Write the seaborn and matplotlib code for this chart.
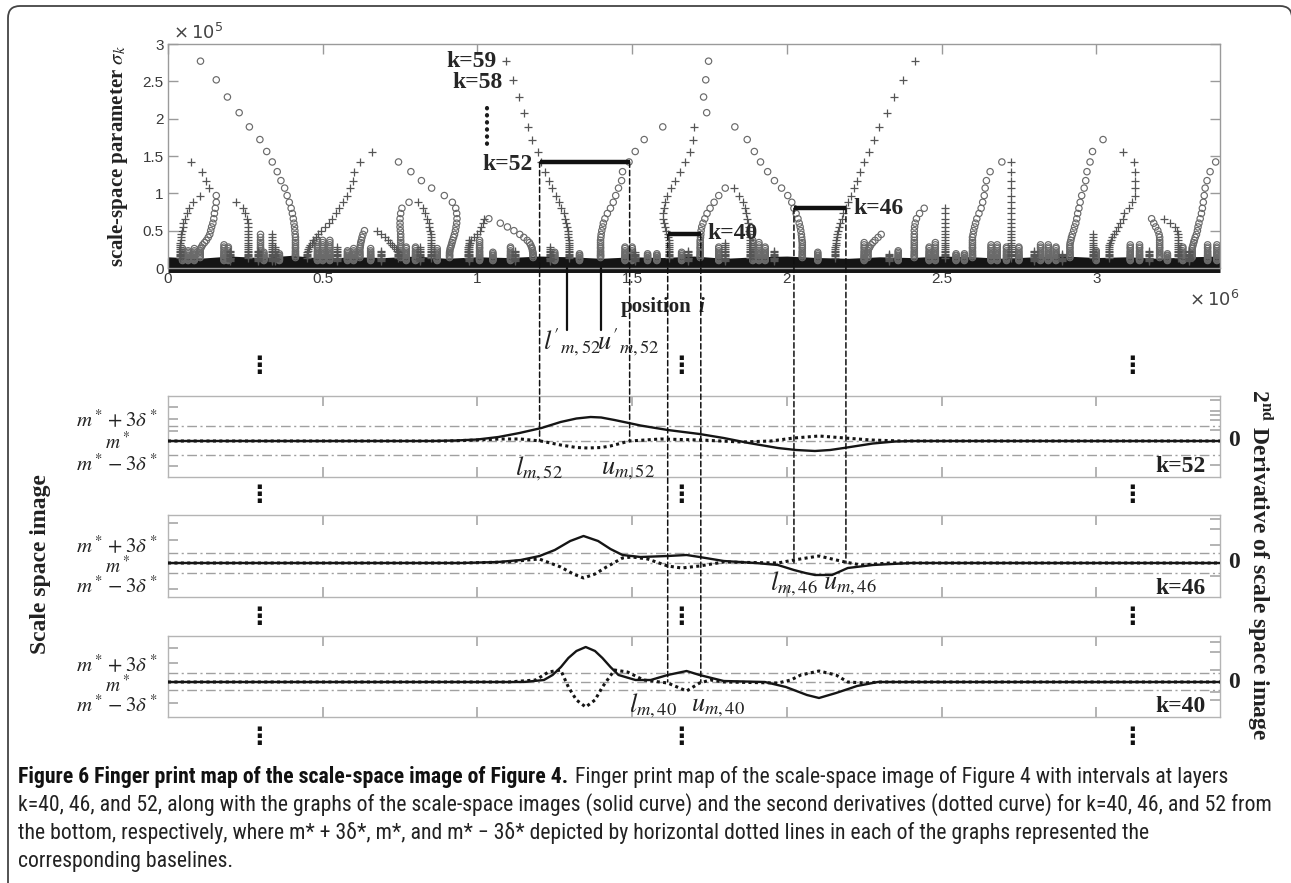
import numpy as np
import pandas as pd
import matplotlib
matplotlib.use("Agg")
import matplotlib.pyplot as plt
import matplotlib.transforms as mtransforms
from matplotlib.patches import FancyBboxPatch, ConnectionPatch
from matplotlib import font_manager as fm
import seaborn as sns

sns.set_theme(style="white")
plt.rcParams['font.family'] = ['DejaVu Sans']
plt.rcParams['mathtext.fontset'] = 'stix'

# ---------------- scale levels sigma_k (x1e5) ----------------
LEVEL_K = list(range(59, 23, -1))
LEVEL_SIGMA = [2.77, 2.52, 2.29, 2.08, 1.89, 1.72, 1.56, 1.42, 1.29, 1.17, 1.07, 0.97,
               0.88, 0.80, 0.73, 0.66, 0.60, 0.55, 0.50, 0.45, 0.41, 0.37, 0.34, 0.31,
               0.28, 0.26, 0.23, 0.21, 0.19, 0.17, 0.16, 0.14, 0.13, 0.12, 0.11, 0.10]

# ---------------- zero-crossing contours (position x1e6, one value per level from k_top down) ----------------
CIRC_A = [0.105, 0.156, 0.192, 0.230, 0.263, 0.297, 0.319, 0.337, 0.353, 0.365, 0.377, 0.385,
          0.392, 0.398, 0.402, 0.405, 0.407, 0.409, 0.410, 0.411] + [0.412] * 12
PLUS_A1 = [0.074, 0.110, 0.123, 0.134]
PLUS_A2 = [0.105, 0.082, 0.067, 0.060, 0.055, 0.050, 0.047, 0.045, 0.043, 0.042, 0.041] + [0.040] * 10
CIRC_B = [0.156, 0.156, 0.153, 0.150, 0.148, 0.145, 0.141, 0.138, 0.135, 0.130, 0.124, 0.118,
          0.112, 0.108, 0.105] + [0.104] * 6
PLUS_B = [0.219, 0.242, 0.250, 0.255, 0.258] + [0.260] * 15
CIRC_C = [0.299] * 13
PLUS_C = [0.658, 0.621, 0.601, 0.597, 0.588, 0.577, 0.564, 0.554, 0.544, 0.530, 0.519, 0.507,
          0.494, 0.485, 0.477, 0.470, 0.465, 0.460, 0.456, 0.453, 0.451] + [0.450] * 5
PLUS_D = [0.675, 0.689, 0.700, 0.710, 0.718, 0.725, 0.732, 0.737, 0.740, 0.742] + [0.743] * 4
CIRC_D = [0.745, 0.785, 0.819, 0.852, 0.893, 0.919, 0.930, 0.933, 0.934, 0.933, 0.931, 0.929,
          0.926, 0.923, 0.920, 0.918, 0.916, 0.914, 0.912, 0.911] + [0.910] * 5
CIRC_E = [0.779, 0.756, 0.752, 0.750, 0.750, 0.750, 0.751] + [0.752] * 13
PLUS_E = [0.809, 0.823, 0.832, 0.838, 0.842, 0.845, 0.847, 0.849] + [0.850] * 12
CIRC_F = [0.635, 0.630, 0.627, 0.625, 0.623, 0.622, 0.621] + [0.620] * 7
CIRC_G = [1.037, 1.074, 1.097, 1.118, 1.137, 1.150, 1.161, 1.168, 1.172, 1.175, 1.177, 1.178,
          1.179] + [1.180] * 4
PLUS_G = [1.020, 1.018, 1.013, 1.008, 1.000, 0.990, 0.980, 0.975, 0.972] + [0.970] * 8
PLUS_H = [1.091, 1.114, 1.134, 1.150, 1.165, 1.178, 1.195, 1.205, 1.217, 1.231, 1.242, 1.255,
          1.264, 1.271, 1.279, 1.283, 1.287, 1.290, 1.292, 1.293, 1.294] + [1.295] * 11
CIRC_H = [1.599, 1.539, 1.510, 1.490, 1.469, 1.466, 1.456, 1.447, 1.439, 1.430, 1.420, 1.412,
          1.407, 1.405, 1.402, 1.400, 1.399] + [1.398] * 11
CIRC_I = [1.747, 1.738, 1.731, 1.741, 1.832, 1.872, 1.895, 1.915, 1.938, 1.960, 1.983, 2.003,
          2.016, 2.023, 2.030, 2.036, 2.040, 2.043, 2.045, 2.047, 2.048, 2.049] + [2.050] * 10
PLUS_I = [1.700, 1.696, 1.687, 1.671, 1.656, 1.640, 1.626, 1.614, 1.606, 1.602, 1.600, 1.601,
          1.602, 1.605, 1.609, 1.615, 1.617, 1.619] + [1.620] * 10
CIRC_J = [1.801, 1.780, 1.765, 1.752, 1.742, 1.735, 1.729, 1.725, 1.723, 1.722, 1.721] + [1.720] * 11
PLUS_J = [1.830, 1.845, 1.858, 1.864, 1.869, 1.872, 1.875, 1.877, 1.878, 1.879] + [1.880] * 12
PLUS_K = [2.413, 2.375, 2.348, 2.323, 2.298, 2.281, 2.265, 2.251, 2.238, 2.227, 2.218, 2.207,
          2.198, 2.191, 2.183, 2.177, 2.172, 2.168, 2.165, 2.163, 2.161, 2.160, 2.159, 2.158] + [2.157] * 8
CIRC_K = [2.305, 2.295, 2.285, 2.278, 2.272, 2.268, 2.265, 2.263] + [2.262] * 5
CIRC_L = [2.444, 2.429, 2.419, 2.415, 2.413] + [2.412] * 14
PLUS_L = [2.511] * 19
CIRC_M = [2.695, 2.657, 2.645, 2.641, 2.638, 2.633, 2.628, 2.621, 2.614, 2.610, 2.607, 2.604,
          2.602] + [2.600] * 12
PLUS_M = [2.726] * 25
PLUS_N = [3.085, 3.122, 3.125, 3.126, 3.126, 3.125, 3.115, 3.105, 3.091, 3.085, 3.078, 3.071,
          3.064, 3.058, 3.052, 3.047, 3.044, 3.042, 3.041] + [3.040] * 7
CIRC_N = [3.022, 2.988, 2.980, 2.970, 2.966, 2.961, 2.953, 2.948, 2.944, 2.940, 2.937, 2.934,
          2.930, 2.927, 2.923, 2.920, 2.918, 2.916] + [2.915] * 9
PLUS_O = [2.990] * 13
CIRC_P = [3.179, 3.186, 3.192, 3.199, 3.203] + [3.205] * 12
PLUS_P = [3.219, 3.240, 3.254, 3.260, 3.263] + [3.265] * 12
CIRC_Q = [3.386, 3.368, 3.358, 3.352, 3.349, 3.346, 3.343, 3.340, 3.336, 3.332, 3.329, 3.327,
          3.324, 3.320, 3.317, 3.315, 3.313, 3.311] + [3.310] * 7

# small low-scale contours: position, top sigma, marker kind
SMALL_X = [0.047, 0.065, 0.085, 0.181, 0.195, 0.200, 0.290, 0.310, 0.336, 0.345, 0.360, 0.483,
           0.500, 0.523, 0.545, 0.580, 0.600, 0.655, 0.690, 0.770, 0.800, 0.815, 0.870, 0.973,
           1.007, 1.050, 1.107, 1.120, 1.235, 1.250, 1.330, 1.477, 1.500, 1.510, 1.550, 1.580,
           1.660, 1.680, 1.780, 1.800, 1.890, 1.910, 1.930, 1.960, 2.100, 2.250, 2.330, 2.360,
           2.460, 2.480, 2.547, 2.574, 2.660, 2.680, 2.710, 2.750, 2.800, 2.820, 2.845, 2.870,
           2.890, 3.000, 3.110, 3.140, 3.170, 3.230, 3.280, 3.300, 3.360, 3.390]
SMALL_TOP = [0.27, 0.25, 0.27, 0.33, 0.30, 0.25, 0.25, 0.22, 0.45, 0.30, 0.20, 0.40,
             0.40, 0.40, 0.30, 0.25, 0.27, 0.27, 0.25, 0.30, 0.30, 0.28, 0.27, 0.40,
             0.40, 0.22, 0.29, 0.25, 0.30, 0.22, 0.20, 0.29, 0.29, 0.22, 0.20, 0.20,
             0.22, 0.25, 0.30, 0.35, 0.38, 0.35, 0.30, 0.25, 0.22, 0.35, 0.20, 0.25,
             0.30, 0.35, 0.20, 0.20, 0.33, 0.33, 0.29, 0.29, 0.25, 0.33, 0.33, 0.30,
             0.20, 0.25, 0.33, 0.33, 0.25, 0.20, 0.29, 0.25, 0.31, 0.31]
SMALL_KIND = ['o', 'o', 'o', 'o', 'o', '+', '+', 'o', '+', '+', 'o', 'o',
              'o', 'o', '+', 'o', 'o', 'o', '+', 'o', 'o', '+', 'o', '+',
              'o', 'o', 'o', '+', '+', 'o', 'o', 'o', 'o', '+', 'o', 'o',
              'o', '+', 'o', '+', 'o', 'o', 'o', '+', 'o', 'o', '+', 'o',
              'o', 'o', 'o', 'o', 'o', 'o', 'o', 'o', '+', 'o', 'o', 'o',
              '+', 'o', 'o', 'o', '+', 'o', 'o', '+', 'o', 'o']

# dense band of finest-scale crossings (top edge, x1e5)
BAND_X = [0.0, 0.1, 0.2, 0.3, 0.4, 0.5, 0.6, 0.7, 0.8, 0.9, 1.0, 1.1, 1.2, 1.3, 1.4, 1.5, 1.6,
          1.7, 1.8, 1.9, 2.0, 2.1, 2.2, 2.3, 2.4, 2.5, 2.6, 2.7, 2.8, 2.9, 3.0, 3.1, 3.2, 3.3, 3.4]
BAND_TOP = [0.15, 0.13, 0.16, 0.14, 0.17, 0.13, 0.15, 0.14, 0.16, 0.13, 0.15, 0.14, 0.16, 0.15,
            0.13, 0.15, 0.14, 0.16, 0.13, 0.15, 0.16, 0.14, 0.13, 0.15, 0.14, 0.16, 0.15, 0.13,
            0.15, 0.16, 0.14, 0.15, 0.13, 0.15, 0.16]

# intervals at layers k=52, 46, 40
INT_K = [52, 46, 40]
INT_LO = [1.201, 2.023, 1.615]
INT_HI = [1.492, 2.191, 1.722]
INT_PANEL = [0, 1, 2]
INNER_L52 = 1.291
INNER_U52 = 1.398

# ---------------- lower panels: scale-space image (solid) and 2nd derivative (dotted) ----------------
K52_SOLID_X = [0.0, 0.85, 0.93, 1.00, 1.068, 1.136, 1.207, 1.269, 1.32, 1.366, 1.40, 1.443, 1.489,
               1.527, 1.615, 1.718, 1.796, 1.877, 1.971, 2.03, 2.091, 2.14, 2.184, 2.278, 2.35,
               2.401, 3.4]
K52_SOLID_Y = [0, 0, 0.5, 1.5, 4, 8, 13, 19, 22.5, 24, 23.5, 21, 18, 15.5, 11, 7, 3, -2, -7, -9,
               -10, -9, -7, -2.5, -0.5, 0, 0]
K52_DOT_X = [0.0, 0.90, 1.00, 1.074, 1.139, 1.204, 1.269, 1.32, 1.356, 1.40, 1.43, 1.492, 1.592,
             1.722, 1.851, 1.948, 2.023, 2.104, 2.188, 2.272, 2.369, 3.4]
K52_DOT_Y = [0, 0, 1, 2, 2, 0, -4, -6.5, -7, -6.5, -5, 0, 2, 1, -1, 0, 3, 5, 3, 1, 0, 0]

K46_SOLID_X = [0.0, 0.95, 1.068, 1.14, 1.201, 1.25, 1.30, 1.343, 1.39, 1.43, 1.469, 1.527, 1.615,
               1.676, 1.718, 1.796, 1.90, 1.971, 2.023, 2.06, 2.091, 2.146, 2.197, 2.278, 2.401, 3.4]
K46_SOLID_Y = [0, 0, 1, 3, 7, 13, 22, 27, 22, 14, 8, 6, 7, 8, 6, 2, 0, -2, -7, -10, -12, -12, -5,
               -2, 0, 0]
K46_DOT_X = [0.0, 0.95, 1.10, 1.162, 1.20, 1.269, 1.31, 1.343, 1.38, 1.417, 1.469, 1.50, 1.55,
             1.615, 1.66, 1.718, 1.796, 1.971, 2.023, 2.104, 2.188, 2.24, 2.333, 3.4]
K46_DOT_Y = [0, 0, 1, 3, 4, -4, -11, -15, -11, -4, 5, 6, 4, -3, -5, -3, 1, 0, 3, 7, 1, -2, 0, 0]

K40_SOLID_X = [0.0, 1.15, 1.215, 1.243, 1.27, 1.294, 1.32, 1.35, 1.38, 1.404, 1.43, 1.456, 1.511,
               1.56, 1.615, 1.676, 1.718, 1.796, 1.929, 1.997, 2.065, 2.104, 2.159, 2.227, 2.294, 3.4]
K40_SOLID_Y = [0, 0, 2, 7, 15, 24, 31, 35, 31, 24, 15, 7, 2, 2, 7, 11, 7, 1, 0, -5, -13, -16,
               -11, -4, 0, 0]
K40_DOT_X = [0.0, 1.10, 1.188, 1.23, 1.269, 1.294, 1.32, 1.35, 1.38, 1.404, 1.443, 1.485, 1.537,
             1.615, 1.676, 1.718, 1.754, 1.796, 1.971, 2.013, 2.045, 2.104, 2.159, 2.197, 2.252,
             2.304, 3.4]
K40_DOT_Y = [0, 0, 2, 10, 12, -5, -18, -25, -18, -5, 12, 10, 2, -1, -9, -1, 2, 0, -1, 2, 7, 11,
             7, 0, -1, 0, 0]

PANEL_NAMES = ['k=52', 'k=46', 'k=40']
PANEL_UPPER = [15, 10, 9]
PANEL_LOWER = [-14, -10, -8]
PANEL_LABELS = [(r'$l_{m,52}$', 1.123, -28), (r'$u_{m,52}$', 1.400, -28),
                (r'$l_{m,46}$', 1.945, -21), (r'$u_{m,46}$', 2.117, -21),
                (r'$l_{m,40}$', 1.489, -24), (r'$u_{m,40}$', 1.689, -24)]
LABEL_PANEL = [0, 0, 1, 1, 2, 2]

XTICKS = [0, 0.5, 1, 1.5, 2, 2.5, 3]
XTICK_LABELS = ['0', '0.5', '1', '1.5', '2', '2.5', '3']
YTICKS = [0, 0.5, 1, 1.5, 2, 2.5, 3]
YTICK_LABELS = ['0', '0.5', '1', '1.5', '2', '2.5', '3']

CAPTION_BOLD = "Figure 6 Finger print map of the scale-space image of Figure 4."
CAPTION_LINES = [
    " Finger print map of the scale-space image of Figure 4 with intervals at layers",
    "k=40, 46, and 52, along with the graphs of the scale-space images (solid curve) and the second derivatives (dotted curve) for k=40, 46, and 52 from",
    "the bottom, respectively, where m* + 3\u03b4*, m*, and m* \u2212 3\u03b4* depicted by horizontal dotted lines in each of the graphs represented the",
    "corresponding baselines.",
]

# ---------------- layout helpers ----------------
W, H = 1291, 883
fig = plt.figure(figsize=(W / 100, H / 100), dpi=100)
fig.patch.set_facecolor('white')


def rect(l, t, r, b):
    return [l / W, 1 - b / H, (r - l) / W, (b - t) / H]


SERIF = 'Liberation Serif'
GRAY_SPINE = '#9a9a9a'

# ---------------- build point table ----------------
SIG = dict(zip(LEVEL_K, LEVEL_SIGMA))
CHAIN_TABLE = [
    ('o', 59, CIRC_A), ('+', 52, PLUS_A1), ('+', 48, PLUS_A2), ('o', 48, CIRC_B), ('+', 47, PLUS_B),
    ('o', 40, CIRC_C), ('+', 53, PLUS_C), ('+', 41, PLUS_D), ('o', 52, CIRC_D), ('o', 47, CIRC_E),
    ('+', 47, PLUS_E), ('o', 41, CIRC_F), ('o', 44, CIRC_G), ('+', 44, PLUS_G), ('+', 59, PLUS_H),
    ('o', 55, CIRC_H), ('o', 59, CIRC_I), ('+', 55, PLUS_I), ('o', 49, CIRC_J), ('+', 49, PLUS_J),
    ('+', 59, PLUS_K), ('o', 40, CIRC_K), ('o', 46, CIRC_L), ('+', 46, PLUS_L), ('o', 52, CIRC_M),
    ('+', 52, PLUS_M), ('+', 53, PLUS_N), ('o', 54, CIRC_N), ('+', 40, PLUS_O), ('o', 44, CIRC_P),
    ('+', 44, PLUS_P), ('o', 52, CIRC_Q),
]
rows = []
for kind, ktop, xs in CHAIN_TABLE:
    for i, xv in enumerate(xs):
        k = ktop - i
        if k in SIG:
            rows.append((xv, SIG[k], kind))
for xv, top, kind in zip(SMALL_X, SMALL_TOP, SMALL_KIND):
    for s in LEVEL_SIGMA:
        if s <= top + 1e-9:
            rows.append((xv, s, kind))
pts = pd.DataFrame(rows, columns=['pos', 'sigma', 'kind'])

# ---------------- top fingerprint map ----------------
ax = fig.add_axes(rect(168, 44, 1220, 268))
ax.set_xlim(0, 3.4)
ax.set_ylim(0, 3)
ax.fill_between(BAND_X, -0.06, BAND_TOP, color='#151515', lw=0, zorder=1.5, clip_on=False)
sns.scatterplot(data=pts[pts.kind == 'o'], x='pos', y='sigma', marker='o', s=21,
                facecolor='none', edgecolor='#6a6a6a', linewidth=0.85, ax=ax, legend=False,
                zorder=2)
sns.scatterplot(data=pts[pts.kind == '+'], x='pos', y='sigma', marker='+', s=32,
                color='#555555', linewidth=0.9, ax=ax, legend=False, zorder=2)
ax.set_xticks(XTICKS)
ax.set_xticklabels(XTICK_LABELS)
ax.set_yticks(YTICKS)
ax.set_yticklabels(YTICK_LABELS)
ax.tick_params(axis='both', direction='in', length=7, width=1, color=GRAY_SPINE,
               labelsize=11, labelcolor='#3a3a3a', top=True, right=True, bottom=True, left=True,
               labeltop=False, labelright=False, pad=3)
for lab in ax.get_xticklabels() + ax.get_yticklabels():
    lab.set_family('Liberation Sans')
for sp in ax.spines.values():
    sp.set_color(GRAY_SPINE)
    sp.set_linewidth(1)
ax.set_xlabel('')
ax.set_ylabel(r'scale-space parameter $\boldsymbol{\sigma_k}$', family=SERIF, weight='bold',
              fontsize=15, color='#222')
ax.yaxis.set_label_coords(-0.036, 0.5)

ax.text(0.016, 3.15, r'$\times\,10^5$', fontsize=13, color='#444', ha='left', va='center',
        family='Liberation Sans', math_fontfamily='dejavusans')
ax.text(3.30, -0.43, r'$\times\,10^6$', fontsize=13, color='#444', ha='left', va='center',
        family='Liberation Sans', math_fontfamily='dejavusans', clip_on=False)
ax.text(1.463, -0.52, 'position', family=SERIF, weight='bold', fontsize=15, ha='left',
        va='center', color='#222')
ax.text(1.715, -0.52, 'i', family=SERIF, weight='bold', style='italic', fontsize=15,
        ha='left', va='center', color='#222')

# k labels and interval brackets
ax.text(1.063, SIG[59], 'k=59', family=SERIF, weight='bold', fontsize=17, ha='right', va='center')
ax.text(1.083, SIG[58] - 0.03, 'k=58', family=SERIF, weight='bold', fontsize=17, ha='right', va='center')
ax.plot([1.032, 1.032], [2.14, 1.58], color='k', lw=3, ls=(0, (0.1, 1.6)),
        dash_capstyle='round')
ax.text(1.177, SIG[52] - 0.04, 'k=52', family=SERIF, weight='bold', fontsize=17, ha='right', va='center')
ax.text(1.742, SIG[40] + 0.01, 'k=40', family=SERIF, weight='bold', fontsize=17, ha='left', va='center')
ax.text(2.214, SIG[46], 'k=46', family=SERIF, weight='bold', fontsize=17, ha='left', va='center')
for k, lo, hi in zip(INT_K, INT_LO, INT_HI):
    ax.plot([lo, hi], [SIG[k], SIG[k]], color='#111', lw=3.2, solid_capstyle='butt', zorder=4)

# inner bounds l', u'
for xv in (INNER_L52, INNER_U52):
    ax.plot([xv, xv], [0, -0.83], color='#111', lw=1.6, clip_on=False, zorder=4)
ax.text(1.212, -1.0, r"$l'_{m,52}$", fontsize=19, ha='left', va='center', color='#222')
ax.text(1.385, -1.0, r"$u'_{m,52}$", fontsize=19, ha='left', va='center', color='#222')

# ---------------- lower panels ----------------
PANEL_BOX = [(396, 477), (515, 597), (636, 717)]
PANEL_YLIM = [(-36, 45), (-34, 48), (-35, 46)]
LEFT_TICKS = [[34, 22, 10, -25], [40, 23, -26], [34, 19, -21]]
RIGHT_TICKS = [[41, 30, 26, 21, 11, -24], [44, 34, 18, -13], [40, 30, 12, -10, -18]]
LABEL_Y = [(21, -1, -23), (17, -3, -23), (17, -3, -23)]
SOLIDS = [(K52_SOLID_X, K52_SOLID_Y), (K46_SOLID_X, K46_SOLID_Y), (K40_SOLID_X, K40_SOLID_Y)]
DOTS = [(K52_DOT_X, K52_DOT_Y), (K46_DOT_X, K46_DOT_Y), (K40_DOT_X, K40_DOT_Y)]
panels = []
for i, (t, b) in enumerate(PANEL_BOX):
    pa = fig.add_axes(rect(168, t, 1220, b))
    pa.set_xlim(0, 3.4)
    pa.set_ylim(*PANEL_YLIM[i])
    dd = (0, (7, 2.5, 1.5, 2.5))
    for yv in (PANEL_UPPER[i], 0, PANEL_LOWER[i]):
        pa.axhline(yv, color='#a0a0a0', lw=1.0, ls=dd, zorder=1)
    sx, sy = SOLIDS[i]
    dx, dy = DOTS[i]
    sns.lineplot(x=dx, y=dy, ax=pa, color='#151515', lw=2.2, linestyle=(0, (1, 1.1)),
                 sort=False, estimator=None, zorder=3)
    sns.lineplot(x=sx, y=sy, ax=pa, color='#151515', lw=1.7, sort=False, estimator=None, zorder=4)
    pa.set_xticks(XTICKS[1:])
    pa.set_yticks(LEFT_TICKS[i])
    pa.tick_params(axis='x', direction='in', length=7, color='#aaaaaa', top=True, bottom=True,
                   labelbottom=False, labeltop=False)
    pa.tick_params(axis='y', direction='in', length=7, color='#aaaaaa', left=True, right=False,
                   labelleft=False)
    tw = pa.twinx()
    tw.set_ylim(*PANEL_YLIM[i])
    tw.set_yticks(RIGHT_TICKS[i])
    tw.tick_params(axis='y', direction='in', length=7, color='#aaaaaa', right=True,
                   labelright=False)
    for sp in tw.spines.values():
        sp.set_visible(False)
    for sp in pa.spines.values():
        sp.set_color('#b4b4b4')
        sp.set_linewidth(1)
    pa.set_xlabel('')
    pa.set_ylabel('')
    tw.set_ylabel('')
    tr = mtransforms.blended_transform_factory(pa.transAxes, pa.transData)
    yu, ym, yl = LABEL_Y[i]
    pa.text(-0.0095, yu, r'$m^* + 3\delta^*$', transform=tr, ha='right', va='center',
            fontsize=15, color='#222')
    pa.text(-0.048, ym, r'$m^*$', transform=tr, ha='center', va='center', fontsize=14,
            color='#222')
    pa.text(-0.0095, yl, r'$m^* - 3\delta^*$', transform=tr, ha='right', va='center',
            fontsize=15, color='#222')
    pa.text(1.0075, 0, '0', transform=tr, ha='left', va='center', family=SERIF,
            weight='bold', fontsize=17, color='#222')
    pa.text(0.986, -25, PANEL_NAMES[i], transform=tr, ha='right', va='center', family=SERIF,
            weight='bold', fontsize=17, color='#222')
    panels.append(pa)

for (txt, xv, yv), p in zip(PANEL_LABELS, LABEL_PANEL):
    panels[p].text(xv, yv, txt, fontsize=19, ha='left', va='center', color='#222')

# dashed connectors from interval ends down to the matching layer
for k, lo, hi, p in zip(INT_K, INT_LO, INT_HI, INT_PANEL):
    for xv in (lo, hi):
        cp = ConnectionPatch(xyA=(xv, SIG[k]), coordsA=ax.transData, xyB=(xv, 0),
                             coordsB=panels[p].transData, color='#111', lw=1.1,
                             linestyle=(0, (3.5, 2)), zorder=5)
        fig.add_artist(cp)

# vertical ellipses between panels
DOT_COLS = [0.295, 1.657, 3.117]
DOT_ROWS = [366, 495, 617, 737]
btr = mtransforms.blended_transform_factory(ax.transData, fig.transFigure)
for xv in DOT_COLS:
    for yr in DOT_ROWS:
        fig.text(xv, 1 - yr / H, '\u22ee', transform=btr, ha='center', va='center',
                 fontsize=17, color='#111', family='DejaVu Sans', weight='bold')

# side titles
fig.text(41 / W, 1 - 564 / H, 'Scale space image', rotation=90, ha='center', va='center',
         family=SERIF, weight='bold', fontsize=17, color='#222')
fig.text(1261 / W, 1 - 565 / H, r'2$^{\mathbf{nd}}$ Derivative of scale space image',
         rotation=270, ha='center', va='center', family=SERIF, weight='bold', fontsize=17,
         color='#222')

# frame
frame = FancyBboxPatch((8, -30), 1284, H - 6 + 30, boxstyle='round,pad=0,rounding_size=12',
                       transform=mtransforms.IdentityTransform(), fill=False, ec='#444',
                       lw=1.3)
fig.add_artist(frame)

# caption
avail = {f.name for f in fm.fontManager.ttflist}
cap_family = next((f for f in ['Liberation Sans Narrow', 'Roboto Condensed', 'Open Sans Condensed',
                               'Open Sans', 'Noto Sans'] if f in avail), 'DejaVu Sans')
fig.canvas.draw()
rend = fig.canvas.get_renderer()
size0 = 12
tb = fig.text(18 / W, 1 - 777 / H, CAPTION_BOLD, fontsize=size0, weight='bold', family=cap_family,
              va='center', ha='left', color='#111')
tr1 = fig.text(0, 1 - 777 / H, CAPTION_LINES[0], fontsize=size0, family=cap_family, va='center',
               ha='left', color='#222')
probe = fig.text(0, 0, CAPTION_LINES[1], fontsize=size0, family=cap_family)
wb = tb.get_window_extent(rend).width
wr = tr1.get_window_extent(rend).width
w2 = probe.get_window_extent(rend).width
probe.remove()
size = min(size0 * 1253 / (wb + wr), size0 * 1258 / w2)
tb.set_fontsize(size)
tr1.set_fontsize(size)
tr1.set_x((18 + wb * size / size0) / W)
for j, line in enumerate(CAPTION_LINES[1:]):
    fig.text(18 / W, 1 - (805 + 28 * j) / H, line, fontsize=size, family=cap_family, va='center',
             ha='left', color='#222')

fig.savefig('out.png', dpi=100)
print(cap_family, size)
